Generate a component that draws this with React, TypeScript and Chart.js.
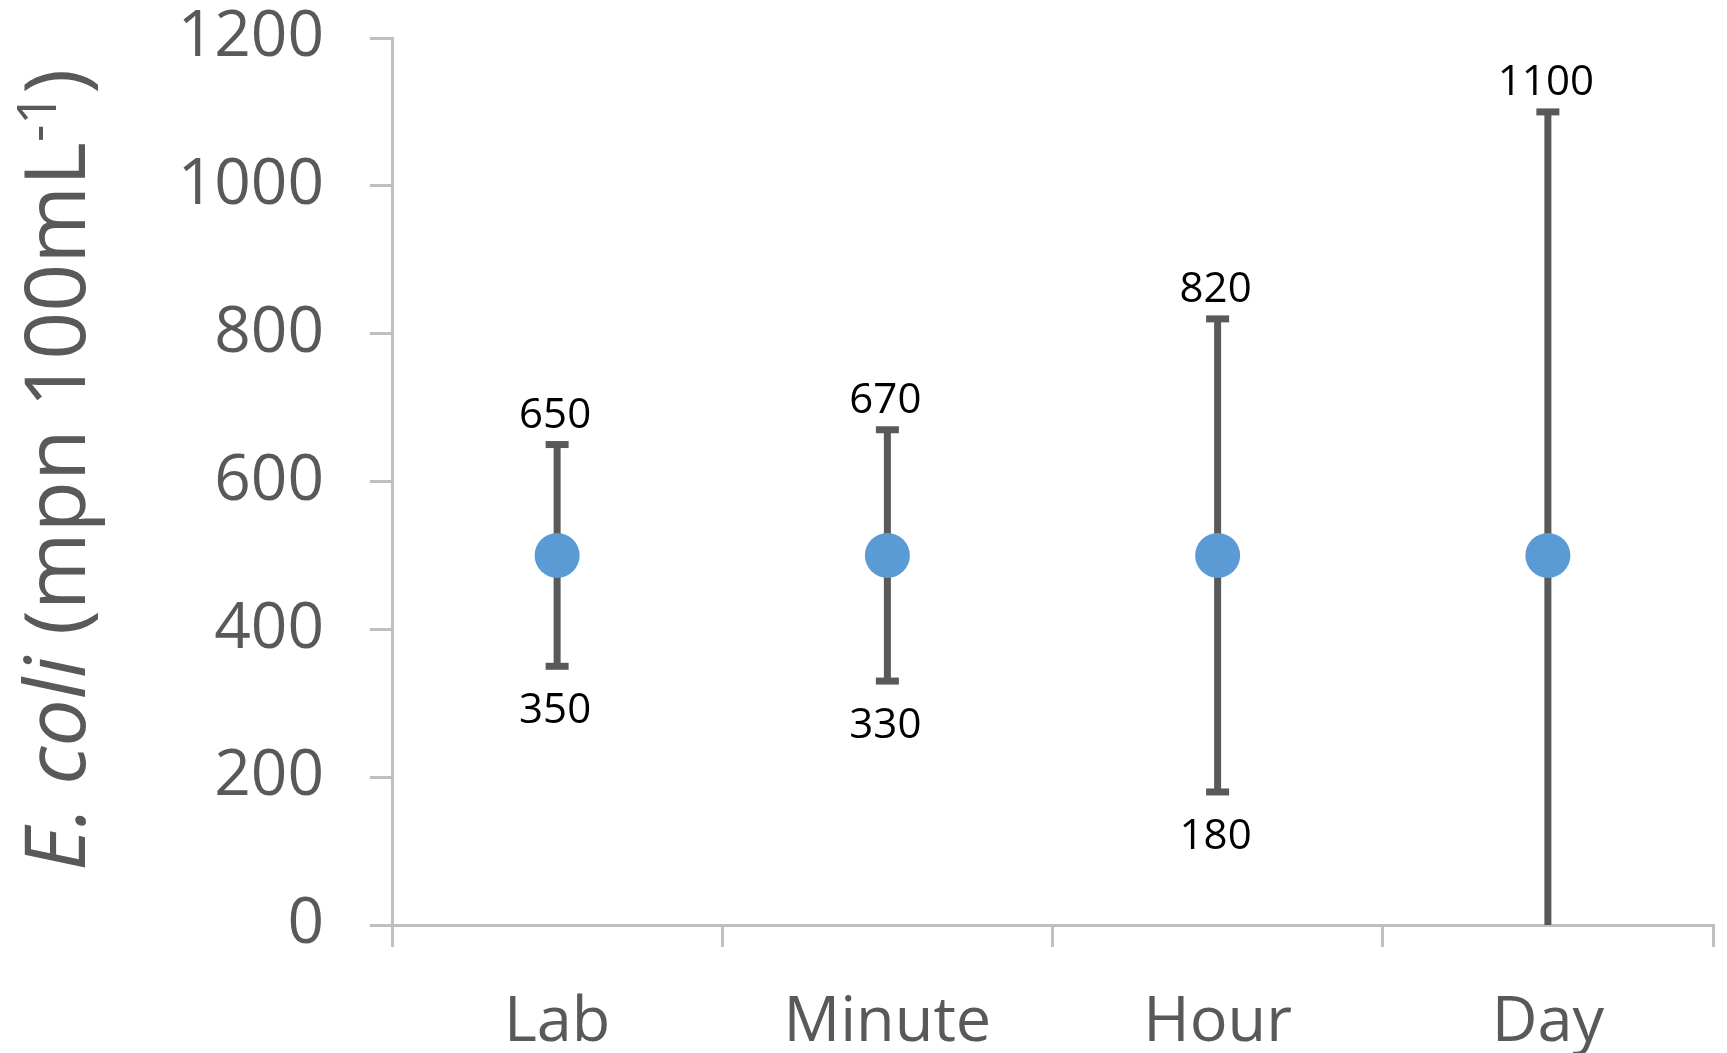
import { useEffect, useRef } from "react";
import { Chart, registerables } from "chart.js";

Chart.register(...registerables);

// Sampling scenarios and E. coli counts (mpn per 100 mL)
const categories = ["Lab", "Minute", "Hour", "Day"];
const centerValues = [500, 500, 500, 500];
const upperValues = [650, 670, 820, 1100];
const lowerValues = [350, 330, 180, 0];
const showLowerLabel = [true, true, true, false];
const yTickValues = [0, 200, 400, 600, 800, 1000, 1200];

const FONT = "'Open Sans', 'Noto Sans', sans-serif";
const AXIS_GREY = "#BFBFBF";
const TEXT_GREY = "#595959";
const BAR_GREY = "#595959";
const MARKER_BLUE = "#5B9BD5";

// Error bars (stem + caps) drawn behind the markers
const errorBarPlugin = {
  id: "errorBars",
  beforeDatasetsDraw(chart: any) {
    const { ctx, chartArea, scales } = chart;
    const x = scales.x;
    const y = scales.y;
    ctx.save();
    ctx.beginPath();
    ctx.rect(chartArea.left, chartArea.top - 20, chartArea.right - chartArea.left, chartArea.bottom - chartArea.top + 20);
    ctx.clip();
    ctx.strokeStyle = BAR_GREY;
    ctx.lineWidth = 7;
    ctx.lineCap = "butt";
    const capHalf = 11.5;
    categories.forEach((_, i) => {
      const px = x.getPixelForValue(i);
      const yTop = y.getPixelForValue(upperValues[i]);
      const yBot = y.getPixelForValue(lowerValues[i]);
      ctx.beginPath();
      ctx.moveTo(px, yTop);
      ctx.lineTo(px, yBot);
      ctx.stroke();
      [upperValues[i], lowerValues[i]].forEach((v) => {
        if (v <= y.min) return;
        const py = y.getPixelForValue(v);
        ctx.beginPath();
        ctx.moveTo(px - capHalf, py);
        ctx.lineTo(px + capHalf, py);
        ctx.stroke();
      });
    });
    ctx.restore();
  },
  afterDatasetsDraw(chart: any) {
    const { ctx, scales } = chart;
    const x = scales.x;
    const y = scales.y;
    ctx.save();
    ctx.fillStyle = "#000000";
    ctx.font = `42px ${FONT}`;
    ctx.textAlign = "center";
    ctx.textBaseline = "alphabetic";
    categories.forEach((_, i) => {
      const px = x.getPixelForValue(i) - 2;
      ctx.fillText(String(upperValues[i]), px, y.getPixelForValue(upperValues[i]) - 17);
      if (showLowerLabel[i]) {
        ctx.fillText(String(lowerValues[i]), px, y.getPixelForValue(lowerValues[i]) + 57);
      }
    });
    ctx.restore();
  },
};

// Rotated y-axis title with italic species name and superscript unit
const yTitlePlugin = {
  id: "yTitle",
  afterDraw(chart: any) {
    const { ctx } = chart;
    const size = 84;
    const supSize = 54;
    const parts = [
      { text: "E. coli", font: `italic ${size}px ${FONT}`, rise: 0 },
      { text: " (mpn 100mL", font: `${size}px ${FONT}`, rise: 0 },
      { text: "-1", font: `${supSize}px ${FONT}`, rise: 29 },
      { text: ")", font: `${size}px ${FONT}`, rise: 0 },
    ];
    ctx.save();
    let total = 0;
    const widths = parts.map((p) => {
      ctx.font = p.font;
      const w = ctx.measureText(p.text).width;
      total += w;
      return w;
    });
    ctx.translate(85, 470);
    ctx.rotate(-Math.PI / 2);
    ctx.fillStyle = TEXT_GREY;
    ctx.textBaseline = "alphabetic";
    ctx.textAlign = "left";
    let cx = -total / 2;
    parts.forEach((p, i) => {
      ctx.font = p.font;
      ctx.fillText(p.text, cx, -p.rise);
      cx += widths[i];
    });
    ctx.restore();
  },
};

export default function App() {
  const canvasRef = useRef<HTMLCanvasElement | null>(null);

  useEffect(() => {
    const canvas = canvasRef.current;
    if (!canvas) return;
    const chart = new Chart(canvas, {
      type: "line",
      data: {
        labels: categories,
        datasets: [
          {
            data: centerValues,
            showLine: false,
            pointRadius: 22.5,
            pointHoverRadius: 22.5,
            pointBackgroundColor: MARKER_BLUE,
            pointBorderWidth: 0,
            borderColor: MARKER_BLUE,
            backgroundColor: MARKER_BLUE,
          },
        ],
      },
      options: {
        responsive: false,
        animation: false,
        devicePixelRatio: 1,
        events: [],
        layout: { autoPadding: false, padding: { top: 38, right: 14, left: 0, bottom: 0 } },
        plugins: {
          legend: { display: false },
          tooltip: { enabled: false },
          title: { display: false },
        },
        scales: {
          x: {
            type: "category",
            offset: true,
            grid: {
              offset: true,
              drawOnChartArea: false,
              drawTicks: true,
              tickLength: 22,
              color: AXIS_GREY,
              lineWidth: 3,
            },
            border: { color: AXIS_GREY, width: 3 },
            ticks: {
              color: TEXT_GREY,
              font: { family: FONT, size: 63 },
              padding: 38,
              maxRotation: 0,
            },
            afterFit: (scale: any) => {
              scale.height = 128;
              scale.paddingLeft = 0;
              scale.paddingRight = 0;
            },
          },
          y: {
            type: "linear",
            min: 0,
            max: 1200,
            afterBuildTicks: (scale: any) => {
              scale.ticks = yTickValues.map((v) => ({ value: v }));
            },
            grid: {
              drawOnChartArea: false,
              drawTicks: true,
              tickLength: 22,
              color: AXIS_GREY,
              lineWidth: 3,
            },
            border: { color: AXIS_GREY, width: 3 },
            ticks: {
              color: TEXT_GREY,
              font: { family: FONT, size: 64 },
              padding: 46,
              callback: (value: any) => String(value),
            },
            afterFit: (scale: any) => {
              scale.width = 392;
              scale.paddingTop = 0;
              scale.paddingBottom = 0;
            },
          },
        },
      },
      plugins: [errorBarPlugin, yTitlePlugin],
    });
    return () => chart.destroy();
  }, []);

  return (
    <div style={{ position: "fixed", left: 0, top: 0, width: 1727, height: 1053, background: "#ffffff" }}>
      <canvas ref={canvasRef} width={1727} height={1053} style={{ display: "block" }} />
    </div>
  );
}
